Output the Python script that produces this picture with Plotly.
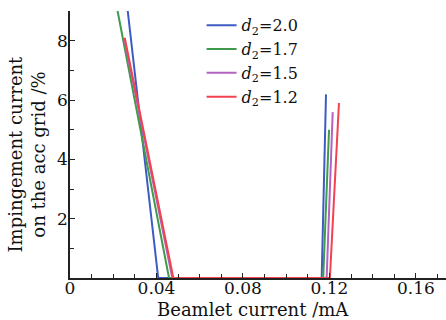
import plotly.graph_objects as go

# Impingement current on the accel grid vs beamlet current, for four d2 values
labels = ["<i>d</i><sub>2</sub>=2.0", "<i>d</i><sub>2</sub>=1.7",
          "<i>d</i><sub>2</sub>=1.5", "<i>d</i><sub>2</sub>=1.2"]
colors = ["#3c5cc4", "#3f9a4c", "#b462c2", "#f2424f"]

beamlet_ma = [
    [0.0267, 0.0408, 0.1164, 0.1184],
    [0.0220, 0.0458, 0.1171, 0.1198],
    [0.0251, 0.0473, 0.1187, 0.1215],
    [0.0253, 0.0478, 0.1202, 0.1244],
]
impingement_pct = [
    [9.0, 0.0, 0.0, 6.19],
    [9.0, 0.0, 0.0, 5.0],
    [8.07, 0.0, 0.0, 5.59],
    [8.1, 0.0, 0.0, 5.9],
]

x_ticks = [0, 0.04, 0.08, 0.12, 0.16]
x_ticktext = ["0", "0.04", "0.08", "0.12", "0.16"]
y_ticks = [2, 4, 6, 8]

FONT = "'DejaVu Serif', serif"

fig = go.Figure()
for name, c, xs, ys in zip(labels, colors, beamlet_ma, impingement_pct):
    fig.add_trace(go.Scatter(x=xs, y=ys, mode="lines", name=name,
                             line=dict(color=c, width=2)))

axis_common = dict(
    showline=True, linecolor="#222", linewidth=1.5, mirror=False,
    showgrid=False, zeroline=False, ticks="inside", ticklen=5,
    tickcolor="#222", tickwidth=1.2, layer="above traces",
    tickfont=dict(family=FONT, size=17, color="#111"),
)

fig.update_layout(
    width=446, height=320,
    margin=dict(l=70, r=0, t=11, b=42),
    paper_bgcolor="white", plot_bgcolor="white",
    font=dict(family=FONT, color="#111"),
    xaxis=dict(range=[0, 0.1739], tickvals=x_ticks, ticktext=x_ticktext,
               ticklabelstandoff=-6,
               minor=dict(dtick=0.01, ticks="inside", ticklen=4, tickcolor="#222"),
               **axis_common),
    yaxis=dict(range=[0, 9], tickvals=y_ticks, ticklabelstandoff=-3,
               minor=dict(dtick=1, ticks="inside", ticklen=4, tickcolor="#222"),
               **axis_common),
    legend=dict(x=0.35, y=1.01, xanchor="left", yanchor="top",
                bgcolor="rgba(0,0,0,0)", tracegroupgap=0,
                font=dict(family=FONT, size=16, color="#111")),
    showlegend=True,
    annotations=[
        dict(text="Beamlet current /mA", xref="paper", yref="paper",
             x=0.5, y=0, xshift=-5, yshift=-31, xanchor="center", yanchor="middle",
             showarrow=False, font=dict(family=FONT, size=18, color="#111")),
        dict(text="Impingement current<br>on the acc grid /%", xref="paper",
             yref="paper", x=0, y=0.5, xshift=-44, yshift=-10, textangle=-90,
             xanchor="center", yanchor="middle", showarrow=False,
             font=dict(family=FONT, size=18, color="#111")),
    ],
)

fig.write_html("out.html")
